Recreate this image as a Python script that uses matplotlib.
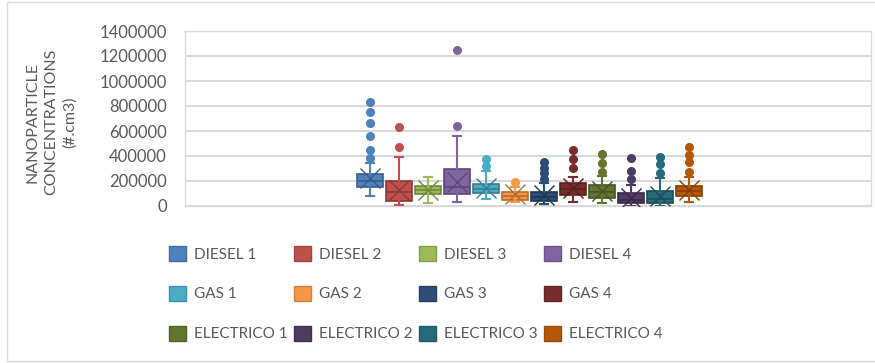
import numpy as np
import matplotlib
matplotlib.use("Agg")
import matplotlib.pyplot as plt
from matplotlib.patches import Patch, Rectangle
from matplotlib.colors import to_rgb

plt.rcParams['font.family'] = ['Lato', 'DejaVu Sans']

# box statistics (#/cm3)
labels = ['DIESEL 1', 'DIESEL 2', 'DIESEL 3', 'DIESEL 4',
          'GAS 1', 'GAS 2', 'GAS 3', 'GAS 4',
          'ELECTRICO 1', 'ELECTRICO 2', 'ELECTRICO 3', 'ELECTRICO 4']
colors = ['#4F81BD', '#C0504D', '#9BBB59', '#8064A2', '#4BACC6', '#F79646',
          '#2C4D75', '#772C2A', '#5F7530', '#4D3B62', '#276A7C', '#B65708']
q1 = [154000, 40000, 94000, 94000, 102000, 48000, 38000, 88000, 62000, 22000, 22000, 80000]
med = [200000, 110000, 128000, 154000, 136000, 82000, 74000, 134000, 112000, 48000, 54000, 122000]
q3 = [254000, 200000, 162000, 292000, 176000, 114000, 110000, 182000, 164000, 102000, 122000, 160000]
whis_lo = [80000, 5000, 22000, 30000, 54000, 34000, 16000, 34000, 22000, 3000, 3000, 34000]
whis_hi = [340000, 394000, 234000, 560000, 280000, 150000, 180000, 234000, 236000, 170000, 220000, 230000]
means = [225000, 128000, 130000, 190000, 144000, 92000, 84000, 142000, 120000, 66000, 76000, 128000]
outliers = [[380000, 450000, 560000, 660000, 755000, 835000],
            [472000, 634000],
            [],
            [640000, 1245000],
            [322000, 376000],
            [190000],
            [215000, 262000, 300000, 355000],
            [302000, 374000, 448000],
            [274000, 342000, 416000],
            [214000, 282000, 382000],
            [262000, 336000, 390000],
            [274000, 354000, 408000, 470000]]
yticks = [0, 200000, 400000, 600000, 800000, 1000000, 1200000, 1400000]

def darker(c, f=0.72):
    r, g, b = to_rgb(c)
    return (r * f, g * f, b * f)

W, H = 875, 363
fig = plt.figure(figsize=(W / 100, H / 100), dpi=100)
ax = fig.add_axes([185 / W, 1 - 206 / H, (871 - 185) / W, 175 / H])

stats = []
for i in range(len(labels)):
    stats.append(dict(med=med[i], q1=q1[i], q3=q3[i], whislo=whis_lo[i],
                      whishi=whis_hi[i], mean=means[i], fliers=outliers[i]))

pos = np.arange(len(labels))
bp = ax.bxp(stats, positions=pos, widths=0.93, patch_artist=True,
            showmeans=True, capwidths=0.3, zorder=3)

for i, c in enumerate(colors):
    dk = darker(c)
    bp['boxes'][i].set(facecolor=c, edgecolor=dk, linewidth=1.2)
    bp['medians'][i].set(color=dk, linewidth=1.2)
    for ln in bp['whiskers'][2 * i:2 * i + 2] + bp['caps'][2 * i:2 * i + 2]:
        ln.set(color=c, linewidth=1.5)
    bp['fliers'][i].set(marker='o', markerfacecolor=c, markeredgecolor=c,
                        markersize=5.5)
    bp['means'][i].set(marker='x', markeredgecolor=dk, markersize=14,
                       markeredgewidth=1.0, zorder=4)

ax.set_xlim(-(370 - 185) / 29, (871 - 370) / 29)
ax.set_ylim(0, 1400000)
ax.set_yticks(yticks)
ax.set_yticklabels([str(v) for v in yticks])
ax.set_xticks([])
ax.tick_params(axis='y', length=0, pad=13, labelsize=12, labelcolor='#595959')
ax.yaxis.grid(True, color='#D9D9D9', linewidth=1.5, zorder=0)
ax.set_axisbelow(True)
for s in ax.spines.values():
    s.set_color('#D9D9D9')
    s.set_linewidth(1.0)

fig.text(51 / W, 1 - 122 / H, 'NANOPARTICLE\nCONCENTRATIONS\n(#.cm3)',
         rotation=90, ha='center', va='center', multialignment='center',
         fontsize=11.5, color='#595959', linespacing=1.4)

# legend is filled row by row, like the original
order = np.arange(12).reshape(3, 4).T.flatten()
handles = [Patch(facecolor=colors[k], edgecolor=darker(colors[k], 0.85)) for k in order]
fig.legend(handles, [labels[k] for k in order], ncol=4, frameon=False,
           loc='upper left', bbox_to_anchor=(169 / W, 1 - 246 / H),
           fontsize=11, labelcolor='#595959', handlelength=1.1, handleheight=1.1,
           handletextpad=0.55, labelspacing=1.6, columnspacing=0.4, borderpad=0,
           borderaxespad=0)

fig.patches.append(Rectangle((7 / W, 2 / H), 1.0, 1 - 4 / H, transform=fig.transFigure,
                             fill=False, edgecolor='#D9D9D9', linewidth=1.0))

fig.savefig('out.png', dpi=100)
